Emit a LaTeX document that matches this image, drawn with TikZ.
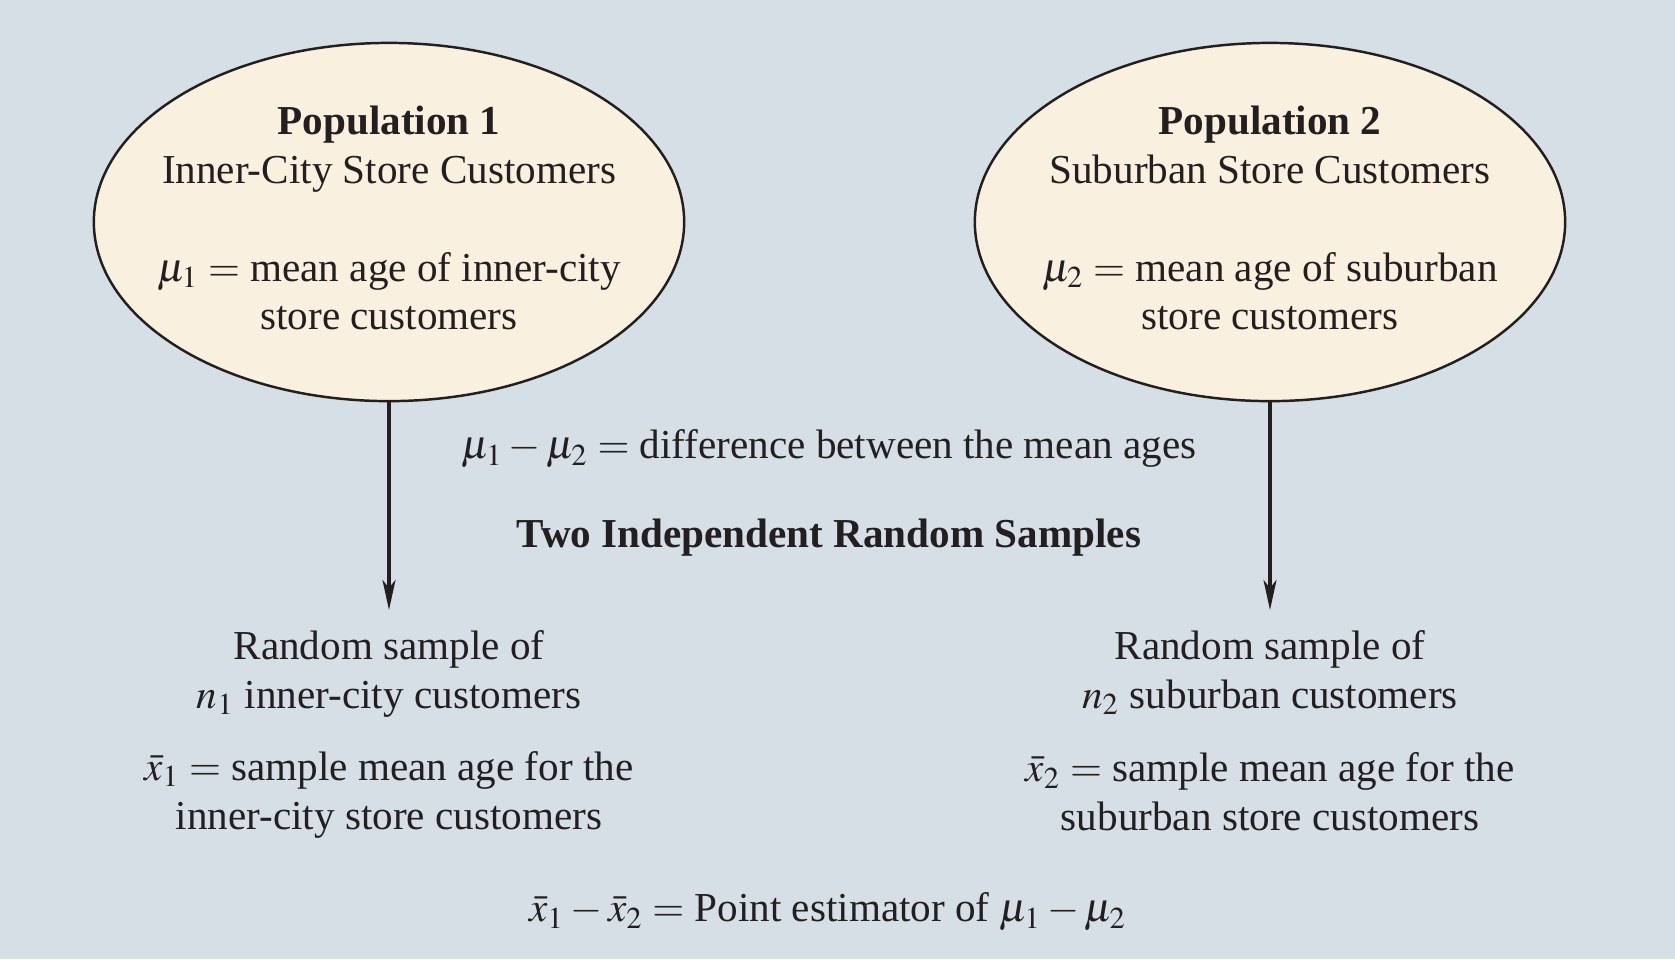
\documentclass[tikz,border=0pt]{standalone}
\usepackage{mathptmx}
\usepackage{fontspec}
\setmainfont{Liberation Serif}
\usetikzlibrary{shapes.geometric,arrows.meta}
\definecolor{bgblue}{RGB}{213,223,229}
\definecolor{popfill}{RGB}{250,240,224}
\definecolor{ink}{RGB}{35,31,32}

\begin{document}
\begin{tikzpicture}[
    x=0.01cm,y=-0.01cm,
    every node/.style={text=ink,align=center,font=\fontsize{11.7}{13.9}\selectfont},
    popnode/.style={ellipse,draw=ink,line width=0.7pt,fill=popfill,
        minimum width=5.9cm,minimum height=3.58cm,inner sep=0pt},
    sampnode/.style={inner sep=0.2cm},
    samparrow/.style={draw=ink,line width=0.9pt,
        -{Stealth[length=0.3cm,width=0.13cm,inset=0.08cm]}}
]
    % background panel
    \fill[bgblue] (0,0) rectangle (1675,959);

    \node[popnode] (pop1) at (389,222) {};
    \node[popnode] (pop2) at (1270,222) {};
    \node (poptext1) at (389,218) {\textbf{Population 1}\\
        Inner-City Store Customers\\[0.49cm]
        $\mu_1 =$ mean age of inner-city\\
        store customers};
    \node (poptext2) at (1270,218) {\textbf{Population 2}\\
        Suburban Store Customers\\[0.49cm]
        $\mu_2 =$ mean age of suburban\\
        store customers};

    \node (diff) at (829,449) {$\mu_1 - \mu_2 =$ difference between the mean ages};
    \node (indep) at (829,538) {\textbf{Two Independent Random Samples}};

    \node[sampnode,anchor=north] (samp1) at (389,610) {Random sample of\\
        $n_1$ inner-city customers};
    \node[sampnode,anchor=north] (samp2) at (1270,610) {Random sample of\\
        $n_2$ suburban customers};

    \node (est1) at (389,795) {$\bar{x}_1 =$ sample mean age for the\\
        inner-city store customers};
    \node (est2) at (1270,792) {$\bar{x}_2 =$ sample mean age for the\\
        suburban store customers};

    \node (point) at (828,912) {$\bar{x}_1 - \bar{x}_2 =$ Point estimator of $\mu_1 - \mu_2$};

    \draw[samparrow] (pop1.south) -- (samp1.north);
    \draw[samparrow] (pop2.south) -- (samp2.north);
\end{tikzpicture}
\end{document}
